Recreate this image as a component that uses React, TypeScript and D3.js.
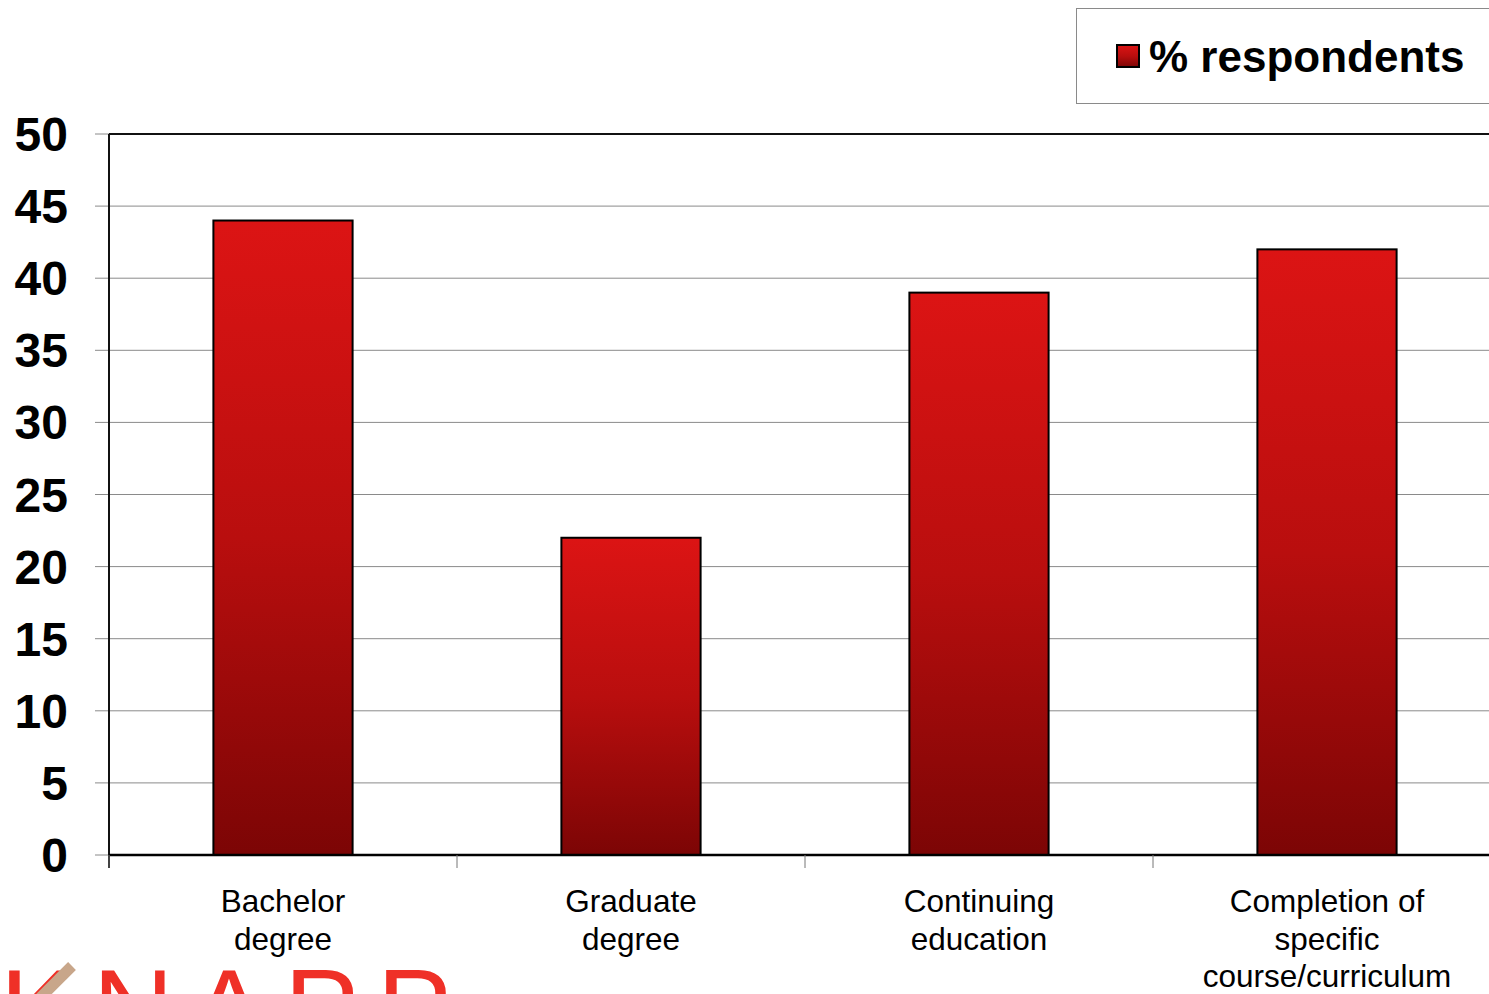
import React from "react";
import * as d3 from "d3";

const categories: string[][] = [
  ["Bachelor", "degree"],
  ["Graduate", "degree"],
  ["Continuing", "education"],
  ["Completion of", "specific", "course/curriculum"],
];
const values: number[] = [44, 22, 39, 42];
const yTicks: number[] = [0, 5, 10, 15, 20, 25, 30, 35, 40, 45, 50];
const seriesName = "% respondents";

const W = 1489;
const H = 994;
const left = 109;
const top = 134;
const bottom = 855;
const step = 348;

export default function App() {
  const keys = categories.map((c) => c.join(" "));
  const x = d3
    .scaleBand<string>()
    .domain(keys)
    .range([left, left + step * keys.length])
    .paddingInner(0.6)
    .paddingOuter(0.3);
  const y = d3.scaleLinear().domain([0, 50]).range([bottom, top]);
  const font = "Arial, 'Liberation Sans', Helvetica, sans-serif";

  return (
    <svg
      width={W}
      height={H}
      viewBox={`0 0 ${W} ${H}`}
      style={{ position: "absolute", left: 0, top: 0, background: "#fff" }}
      fontFamily={font}
    >
      <defs>
        <linearGradient id="barGrad" x1="0" y1="0" x2="0" y2="1">
          <stop offset="0" stopColor="#dc1414" />
          <stop offset="0.5" stopColor="#b90e0e" />
          <stop offset="1" stopColor="#7c0505" />
        </linearGradient>
      </defs>

      {/* gridlines and y ticks */}
      {yTicks.map((t) => (
        <g key={t}>
          <line x1={95} x2={W} y1={y(t)} y2={y(t)} stroke="#8a8a8a" strokeWidth={1} />
          <text
            x={68}
            y={y(t) + 17}
            textAnchor="end"
            fontSize={48}
            fontWeight="bold"
            fill="#000"
          >
            {t}
          </text>
        </g>
      ))}

      {/* frame */}
      <line x1={left} x2={W} y1={top} y2={top} stroke="#111" strokeWidth={2} />
      <line x1={left} x2={left} y1={top} y2={bottom + 13} stroke="#111" strokeWidth={2} />

      {/* bars */}
      {values.map((v, i) => (
        <rect
          key={i}
          x={x(keys[i])!}
          y={y(v)}
          width={x.bandwidth()}
          height={y(0) - y(v)}
          fill="url(#barGrad)"
          stroke="#000"
          strokeWidth={2}
        />
      ))}

      {/* x axis */}
      <line x1={left} x2={W} y1={bottom} y2={bottom} stroke="#000" strokeWidth={2.5} />
      {keys.map((k, i) => (
        <line
          key={k}
          x1={left + step * i}
          x2={left + step * i}
          y1={bottom}
          y2={bottom + 13}
          stroke="#777"
          strokeWidth={1}
        />
      ))}
      {categories.map((lines, i) => {
        const cx = x(keys[i])! + x.bandwidth() / 2;
        return (
          <text key={i} textAnchor="middle" fontSize={31.5} fill="#000">
            {lines.map((l, j) => (
              <tspan key={j} x={cx} y={912 + j * 37.5}>
                {l}
              </tspan>
            ))}
          </text>
        );
      })}

      {/* legend */}
      <rect x={1076.5} y={8.5} width={430} height={95} fill="#fff" stroke="#8a8a8a" strokeWidth={1} />
      <rect x={1117} y={45} width={22} height={22} fill="url(#barGrad)" stroke="#000" strokeWidth={2} />
      <text x={1149} y={72} fontSize={44} fontWeight="bold" fill="#000">
        {seriesName}
      </text>

      {/* logo (partially cut off) */}
      <g>
        <text
          x={0}
          y={1047}
          fontSize={112}
          fill="#ef3027"
          letterSpacing={18}
          fontFamily={font}
        >
          KNAPP
        </text>
        <line x1={36} y1={1002} x2={72} y2={966} stroke="#c8a68a" strokeWidth={11} />
      </g>
    </svg>
  );
}
